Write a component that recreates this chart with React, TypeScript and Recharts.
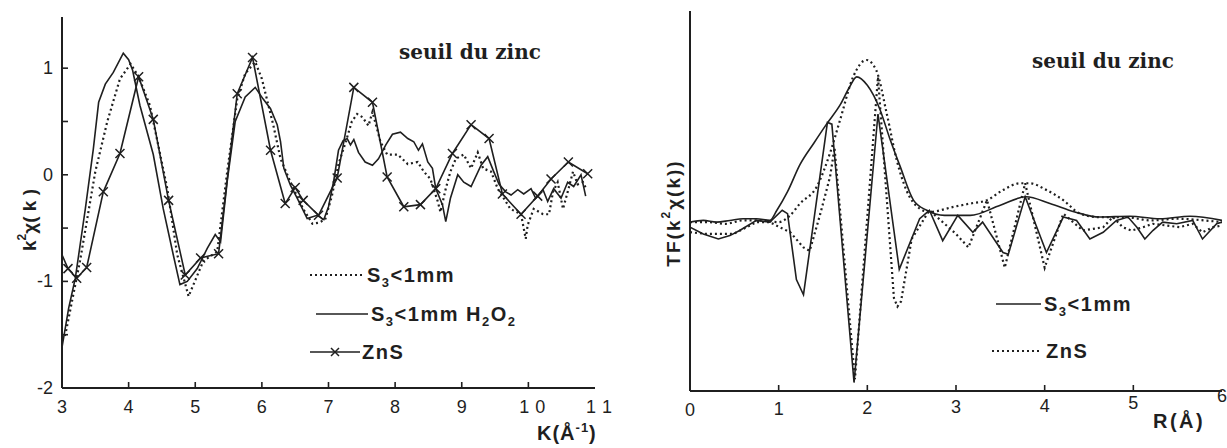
import { Legend, Line, LineChart, XAxis, YAxis } from "recharts";

const INK = "#1f1f1f";
const SANS = "'Liberation Sans', Arial, sans-serif";
const SERIF = "'DejaVu Serif', serif";

// k (Å-1) / k²χ(k) — S3<1mm H2O2 (solid)
const kH2O2 = [3.0, 3.1, 3.2, 3.35, 3.47, 3.55, 3.65, 3.77, 3.92, 4.0, 4.06, 4.17, 4.37, 4.52, 4.67, 4.77, 4.88, 5.03, 5.18, 5.3, 5.38, 5.48, 5.6, 5.75, 5.9, 6.02, 6.13, 6.23, 6.28, 6.33, 6.43, 6.53, 6.68, 6.83, 6.93, 7.0, 7.08, 7.15, 7.22, 7.28, 7.33, 7.38, 7.45, 7.55, 7.66, 7.75, 7.86, 7.96, 8.08, 8.19, 8.28, 8.35, 8.41, 8.49, 8.56, 8.61, 8.71, 8.76, 8.83, 8.94, 9.03, 9.14, 9.29, 9.39, 9.48, 9.56, 9.66, 9.74, 9.84, 9.93, 10.04, 10.11, 10.22, 10.29, 10.38, 10.49, 10.59, 10.68, 10.79, 10.86];
const chiH2O2 = [-1.62, -1.25, -0.97, -0.32, 0.24, 0.68, 0.85, 0.96, 1.14, 1.08, 0.98, 0.65, 0.19, -0.32, -0.75, -1.03, -1.0, -0.88, -0.69, -0.56, -0.63, -0.06, 0.5, 0.73, 0.82, 0.71, 0.62, 0.47, 0.31, 0.06, -0.1, -0.22, -0.41, -0.38, -0.42, -0.3, -0.05, 0.23, 0.32, 0.34, 0.28, 0.33, 0.21, 0.12, 0.09, 0.15, 0.28, 0.38, 0.4, 0.34, 0.31, 0.23, 0.29, 0.12, 0.06, -0.13, -0.28, -0.44, -0.22, 0.0, -0.07, -0.11, 0.09, 0.17, 0.03, -0.09, -0.16, -0.19, -0.14, -0.18, -0.13, -0.22, -0.14, -0.25, -0.13, -0.22, -0.07, -0.11, 0.0, -0.2];

// S3<1mm (dotted)
const kS3 = [3.0, 3.05, 3.27, 3.5, 3.68, 3.87, 4.03, 4.15, 4.32, 4.58, 4.73, 4.9, 5.12, 5.33, 5.48, 5.63, 5.75, 5.9, 6.0, 6.17, 6.28, 6.43, 6.62, 6.76, 6.85, 6.95, 7.05, 7.15, 7.26, 7.35, 7.43, 7.51, 7.6, 7.66, 7.78, 7.88, 8.04, 8.19, 8.34, 8.43, 8.53, 8.64, 8.68, 8.76, 8.83, 8.91, 9.03, 9.14, 9.24, 9.32, 9.44, 9.54, 9.63, 9.73, 9.89, 9.96, 9.99, 10.08, 10.22, 10.31, 10.37, 10.44, 10.52, 10.59, 10.67, 10.74, 10.82, 10.86];
const chiS3 = [-1.55, -1.5, -0.81, 0.03, 0.5, 0.9, 1.04, 0.92, 0.65, -0.13, -0.75, -1.14, -0.81, -0.72, 0.03, 0.71, 0.95, 1.06, 0.9, 0.47, 0.15, -0.07, -0.32, -0.46, -0.45, -0.42, -0.2, 0.1, 0.31, 0.5, 0.57, 0.54, 0.46, 0.59, 0.31, 0.19, 0.19, 0.1, 0.12, 0.03, -0.04, -0.25, -0.35, -0.13, 0.03, 0.15, 0.19, 0.06, 0.21, 0.06, 0.03, -0.13, -0.22, -0.32, -0.37, -0.6, -0.47, -0.32, -0.37, -0.37, -0.16, -0.07, -0.32, -0.16, 0.03, -0.09, -0.07, -0.12];

// ZnS (solid with crosses)
const kZnS = [3.0, 3.09, 3.22, 3.37, 3.62, 3.87, 4.15, 4.37, 4.6, 4.85, 5.08, 5.35, 5.63, 5.86, 6.13, 6.35, 6.5, 6.62, 6.85, 7.13, 7.38, 7.66, 7.88, 8.13, 8.38, 8.61, 8.86, 9.14, 9.41, 9.61, 9.89, 10.14, 10.34, 10.6, 10.89];
const chiZnS = [-0.75, -0.88, -0.97, -0.87, -0.16, 0.2, 0.92, 0.52, -0.24, -0.94, -0.78, -0.74, 0.76, 1.1, 0.23, -0.27, -0.12, -0.24, -0.38, -0.03, 0.82, 0.68, -0.02, -0.3, -0.28, -0.13, 0.2, 0.47, 0.34, -0.18, -0.37, -0.2, -0.04, 0.12, 0.01];

// R (Å) / TF(k²χ(k)) — S3<1mm modulus and imaginary part (solid)
const rS3Mod = [0, 0.15, 0.3, 0.45, 0.6, 0.75, 0.9, 0.98, 1.1, 1.24, 1.4, 1.54, 1.7, 1.8, 1.88, 2.0, 2.14, 2.25, 2.37, 2.52, 2.67, 2.87, 3.16, 3.5, 3.79, 4.06, 4.34, 4.62, 4.96, 5.3, 5.64, 6.0];
const tfS3Mod = [0.0, 0.01, 0.0, 0.01, 0.02, 0.02, 0.01, 0.07, 0.18, 0.34, 0.47, 0.58, 0.7, 0.8, 0.86, 0.81, 0.67, 0.5, 0.33, 0.13, 0.07, 0.04, 0.04, 0.1, 0.15, 0.11, 0.06, 0.03, 0.035, 0.02, 0.035, 0.01];
const rS3Im = [0, 0.15, 0.32, 0.45, 0.56, 0.75, 0.9, 1.04, 1.1, 1.2, 1.28, 1.55, 1.6, 1.85, 2.12, 2.36, 2.59, 2.7, 2.85, 3.02, 3.19, 3.3, 3.53, 3.59, 3.78, 4.02, 4.21, 4.36, 4.51, 4.66, 4.81, 4.94, 5.04, 5.13, 5.22, 5.33, 5.49, 5.67, 5.78, 5.94, 6.0];
const tfS3Im = [-0.03, -0.07, -0.1, -0.08, -0.05, 0.01, 0.0, 0.07, 0.05, -0.34, -0.43, 0.59, 0.58, -0.95, 0.64, -0.28, 0.02, 0.07, -0.11, 0.04, -0.06, 0.0, -0.18, -0.19, 0.15, -0.18, 0.03, 0.01, -0.1, -0.06, 0.01, 0.03, -0.03, -0.1, -0.05, 0.0, -0.01, 0.01, -0.1, -0.01, 0.0];

// ZnS modulus and imaginary part (dotted)
const rZnSMod = [0, 0.2, 0.4, 0.6, 0.8, 1.0, 1.13, 1.24, 1.43, 1.58, 1.69, 1.84, 1.99, 2.1, 2.22, 2.33, 2.44, 2.59, 2.7, 2.97, 3.16, 3.35, 3.53, 3.72, 3.83, 4.02, 4.21, 4.4, 4.6, 4.9, 5.2, 5.5, 5.8, 6.0];
const tfZnSMod = [0.0, 0.0, -0.01, 0.01, 0.01, 0.0, 0.04, 0.11, 0.21, 0.41, 0.6, 0.86, 0.96, 0.9, 0.64, 0.37, 0.19, 0.08, 0.06, 0.09, 0.11, 0.13, 0.19, 0.23, 0.23, 0.19, 0.13, 0.05, 0.03, 0.03, 0.01, 0.02, 0.01, 0.0];
const rZnSIm = [0, 0.19, 0.49, 0.75, 0.9, 1.01, 1.13, 1.28, 1.35, 1.47, 1.58, 1.63, 1.86, 2.12, 2.3, 2.34, 2.38, 2.5, 2.7, 3.0, 3.14, 3.35, 3.55, 3.78, 4.0, 4.21, 4.43, 4.66, 4.77, 4.88, 4.98, 5.11, 5.22, 5.52, 5.67, 5.78, 5.9, 6.0];
const tfZnSIm = [-0.06, -0.07, -0.07, 0.0, 0.0, -0.03, -0.06, -0.15, -0.17, 0.05, 0.27, 0.44, -0.93, 0.86, -0.45, -0.5, -0.47, -0.1, 0.07, -0.07, -0.15, 0.13, -0.27, 0.23, -0.27, 0.05, -0.05, -0.03, 0.03, -0.03, -0.05, -0.03, -0.01, -0.03, -0.01, -0.06, -0.03, -0.02];

const kTicks = [3, 4, 5, 6, 7, 8, 9, 10, 11];
const chiTicks = [-2, -1.5, -1, -0.5, 0, 0.5, 1];
const rTicks = [0, 1, 2, 3, 4, 5, 6];

const toPoints = (xs: number[], ys: number[]) => xs.map((x, i) => ({ x, v: ys[i] }));

const dotted = "2 3";

const BottomTick = (props: any) => {
  const { x, y, payload, first, last, lift } = props;
  const v = payload.value;
  const inner = v !== first && v !== last;
  const ty = y + 19 - (lift ? lift(v) : 0);
  const digits = String(v).split("");
  return (
    <g>
      {inner && <line x1={x} x2={x} y1={y} y2={y - 6} stroke={INK} strokeWidth={1.6} />}
      {digits.length === 1 ? (
        <text x={x} y={ty} textAnchor="middle" dominantBaseline="central" fontFamily={SANS} fontSize={18} fill={INK}>
          {v}
        </text>
      ) : (
        // two-digit labels are spread apart in the original ("1 0", "1 1")
        <text y={ty} textAnchor="middle" dominantBaseline="central" fontFamily={SANS} fontSize={18} fill={INK}>
          <tspan x={x - 4}>{digits[0]}</tspan>
          <tspan x={x + 12}>{digits[1]}</tspan>
        </text>
      )}
    </g>
  );
};

const ChiTick = (props: any) => {
  const { x, y, payload } = props;
  const v = payload.value;
  return (
    <g>
      {v > -2 && <line x1={x} x2={x + 6} y1={y} y2={y} stroke={INK} strokeWidth={1.6} />}
      {Number.isInteger(v) && (
        <text x={x - 9} y={y} textAnchor="end" dominantBaseline="central" fontFamily={SANS} fontSize={18} fill={INK}>
          {String(v)}
        </text>
      )}
    </g>
  );
};

const Cross = (props: any) => {
  const { cx, cy, index } = props;
  if (index === 0 || cx == null) return <g key={`c${index}`} />;
  const s = 4.5;
  return (
    <path
      key={`c${index}`}
      d={`M${cx - s},${cy - s}L${cx + s},${cy + s}M${cx - s},${cy + s}L${cx + s},${cy - s}`}
      stroke={INK}
      strokeWidth={1.5}
      fill="none"
    />
  );
};

const Sample = ({ dash, cross, width }: { dash?: string; cross?: boolean; width: number }) => (
  <svg width={width} height={14} style={{ display: "block" }}>
    <line x1={0} x2={width} y1={7} y2={7} stroke={INK} strokeWidth={dash ? 2 : 1.6} strokeDasharray={dash} />
    {cross && <path d={`M${width / 2 - 4},3L${width / 2 + 4},11M${width / 2 - 4},11L${width / 2 + 4},3`} stroke={INK} strokeWidth={1.5} />}
  </svg>
);

const legendText = { fontFamily: SANS, fontWeight: 700, fontSize: 20, letterSpacing: 1.5, color: INK, lineHeight: 1 };
const subStyle = { fontSize: 13, verticalAlign: "-5px", lineHeight: 0 };

const KLegend = () => (
  <div>
    <div style={{ display: "flex", alignItems: "center", height: 38 }}>
      <Sample dash={dotted} width={54} />
      <span style={{ ...legendText, marginLeft: 3 }}>
        S<span style={subStyle}>3</span>&lt;1mm
      </span>
    </div>
    <div style={{ display: "flex", alignItems: "center", height: 39, paddingLeft: 6 }}>
      <Sample width={52} />
      <span style={{ ...legendText, marginLeft: 3 }}>
        S<span style={subStyle}>3</span>&lt;1mm H<span style={subStyle}>2</span>O<span style={subStyle}>2</span>
      </span>
    </div>
    <div style={{ display: "flex", alignItems: "center", height: 38 }}>
      <Sample cross width={50} />
      <span style={{ ...legendText, marginLeft: 2 }}>ZnS</span>
    </div>
  </div>
);

const RLegend = () => (
  <div>
    <div style={{ display: "flex", alignItems: "center", height: 47, paddingLeft: 4 }}>
      <Sample width={45} />
      <span style={{ ...legendText, marginLeft: 3 }}>
        S<span style={subStyle}>3</span>&lt;1mm
      </span>
    </div>
    <div style={{ display: "flex", alignItems: "center", height: 47 }}>
      <Sample dash={dotted} width={50} />
      <span style={{ ...legendText, marginLeft: 4 }}>ZnS</span>
    </div>
  </div>
);

const frame = { stroke: INK, strokeWidth: 2 };

const KChart = () => (
  <LineChart width={620} height={448} margin={{ top: 17, right: 25, bottom: 30, left: 0 }}>
    <XAxis
      type="number"
      dataKey="x"
      domain={[3, 11]}
      ticks={kTicks}
      allowDataOverflow
      height={30}
      tickSize={0}
      tickMargin={0}
      tickLine={false}
      axisLine={frame}
      tick={<BottomTick first={3} last={11} />}
      label={(p: any) => (
        <text x={p.viewBox.x + p.viewBox.width - 58} y={p.viewBox.y + 52} fontFamily={SANS} fontWeight={700} fontSize={20} letterSpacing={1} fill={INK}>
          K(Å<tspan dy={-8} fontSize={13}>-1</tspan>
          <tspan dy={8}>)</tspan>
        </text>
      )}
    />
    <XAxis xAxisId="top" orientation="top" type="number" dataKey="x" domain={[3, 11]} height={0} tick={false} tickLine={false} axisLine={frame} />
    <YAxis
      type="number"
      domain={[-2, 1.48]}
      ticks={chiTicks}
      allowDataOverflow
      width={62}
      tickSize={0}
      tickMargin={0}
      tickLine={false}
      axisLine={frame}
      tick={<ChiTick />}
      label={() => (
        <text transform="translate(29,220) rotate(-90)" textAnchor="middle" dominantBaseline="central" fontFamily={SANS} fontWeight={700} fontSize={19} fill={INK}>
          k<tspan dy={-7} fontSize={12}>2</tspan>
          <tspan dy={7}>χ( k )</tspan>
        </text>
      )}
    />
    <YAxis yAxisId="right" orientation="right" type="number" domain={[0, 1]} width={0} tick={false} tickLine={false} axisLine={frame} />
    <Line data={toPoints(kH2O2, chiH2O2)} dataKey="v" stroke={INK} strokeWidth={1.6} dot={false} isAnimationActive={false} />
    <Line data={toPoints(kS3, chiS3)} dataKey="v" stroke={INK} strokeWidth={2.2} strokeDasharray={dotted} dot={false} isAnimationActive={false} />
    <Line data={toPoints(kZnS, chiZnS)} dataKey="v" stroke={INK} strokeWidth={1.6} dot={Cross} isAnimationActive={false} />
    <text x={399} y={59} fontFamily={SERIF} fontWeight={700} fontSize={20} fill={INK}>
      seuil du zinc
    </text>
    <Legend layout="horizontal" verticalAlign="middle" align="center" content={KLegend} wrapperStyle={{ left: 310, top: 256, width: 300 }} />
  </LineChart>
);

const RChart = () => (
  <LineChart width={607} height={448} margin={{ top: 11, right: 5, bottom: 27, left: 0 }}>
    <XAxis
      type="number"
      dataKey="x"
      domain={[0, 6]}
      ticks={rTicks}
      allowDataOverflow
      height={30}
      tickSize={0}
      tickMargin={0}
      tickLine={false}
      axisLine={frame}
      tick={<BottomTick first={0} last={6} lift={(v: number) => (v >= 5 ? (v - 4) * 7 : v * 1)} />}
      label={(p: any) => (
        <text x={p.viewBox.x + p.viewBox.width - 69} y={p.viewBox.y + 37} fontFamily={SANS} fontWeight={700} fontSize={20} letterSpacing={2.5} fill={INK}>
          R(Å)
        </text>
      )}
    />
    <XAxis xAxisId="top" orientation="top" type="number" dataKey="x" domain={[0, 6]} height={0} tick={false} tickLine={false} axisLine={frame} />
    <YAxis
      type="number"
      domain={[-1, 1.25]}
      allowDataOverflow
      width={70}
      tick={false}
      tickLine={false}
      axisLine={frame}
      label={() => (
        <text transform="translate(53,213) rotate(-90)" textAnchor="middle" dominantBaseline="central" fontFamily={SANS} fontWeight={700} fontSize={19} letterSpacing={2} fill={INK}>
          TF(k<tspan dy={-7} fontSize={12}>2</tspan>
          <tspan dy={7}>χ(k))</tspan>
        </text>
      )}
    />
    <YAxis yAxisId="right" orientation="right" type="number" domain={[0, 1]} width={0} tick={false} tickLine={false} axisLine={frame} />
    <Line data={toPoints(rS3Mod, tfS3Mod)} dataKey="v" type="monotone" stroke={INK} strokeWidth={1.6} dot={false} isAnimationActive={false} />
    <Line data={toPoints(rS3Im, tfS3Im)} dataKey="v" stroke={INK} strokeWidth={1.6} dot={false} isAnimationActive={false} />
    <Line data={toPoints(rZnSMod, tfZnSMod)} dataKey="v" type="monotone" stroke={INK} strokeWidth={2.2} strokeDasharray={dotted} dot={false} isAnimationActive={false} />
    <Line data={toPoints(rZnSIm, tfZnSIm)} dataKey="v" stroke={INK} strokeWidth={2.2} strokeDasharray={dotted} dot={false} isAnimationActive={false} />
    <text x={412} y={68} fontFamily={SERIF} fontWeight={700} fontSize={20} fill={INK}>
      seuil du zinc
    </text>
    <Legend layout="horizontal" verticalAlign="middle" align="center" content={RLegend} wrapperStyle={{ left: 372, top: 280, width: 220 }} />
  </LineChart>
);

export default function App() {
  return (
    <div style={{ position: "absolute", left: 0, top: 0, width: 1227, height: 448, background: "#fff", display: "flex" }}>
      <KChart />
      <RChart />
    </div>
  );
}
